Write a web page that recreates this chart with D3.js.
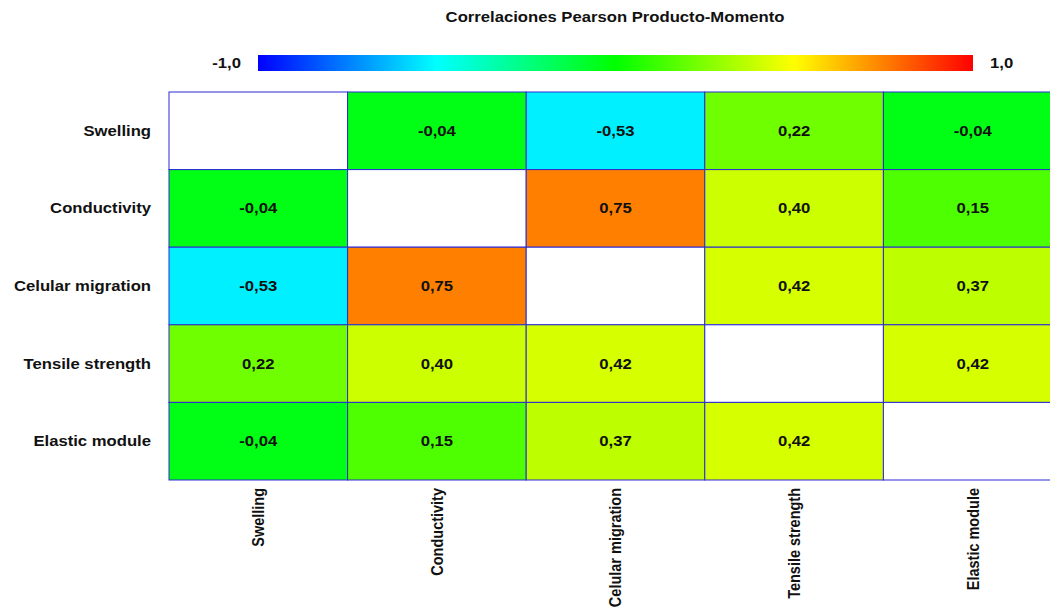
<!DOCTYPE html>
<html>
<head>
<meta charset="utf-8">
<script src="https://cdn.jsdelivr.net/npm/d3@7"></script>
<style>
  body { margin: 0; background: #fff; }
  svg text { font-family: "Liberation Sans", Arial, sans-serif; font-weight: bold; fill: #111; }
</style>
</head>
<body>
<svg id="chart" width="1050" height="609"></svg>
<script>
// variables in row/column order
var variables = ['Swelling', 'Conductivity', 'Celular migration', 'Tensile strength', 'Elastic module'];

// correlation rows (null = diagonal, left blank)
var rowSwelling     = [null, -0.04, -0.53, 0.22, -0.04];
var rowConductivity = [-0.04, null, 0.75, 0.40, 0.15];
var rowMigration    = [-0.53, 0.75, null, 0.42, 0.37];
var rowTensile      = [0.22, 0.40, 0.42, null, 0.42];
var rowElastic      = [-0.04, 0.15, 0.37, 0.42, null];
var matrix = [rowSwelling, rowConductivity, rowMigration, rowTensile, rowElastic];

var legendDomain = [-1, -0.5, 0, 0.5, 1];
var legendColors = ['#0000ff', '#00ffff', '#00ff00', '#ffff00', '#ff0000'];
var legendTicks  = ['-1,0', '1,0'];
var title = 'Correlaciones Pearson Producto-Momento';

var svg = d3.select('#chart');
var SX = 1.15; // the original text is a bit wide, stretch it

var color = d3.scaleLinear().domain(legendDomain).range(legendColors);
var fmt = function(v){ return d3.format('.2f')(v).replace('.', ',').replace('\u2212', '-'); };
var at = function(px, py){ return 'translate(' + px + ',' + py + ') scale(' + SX + ',1)'; };

// grid scales (last column runs off the page, like the original)
var x = d3.scaleBand().domain(variables).range([169, 169 + 5 * 178.6]);
var y = d3.scaleBand().domain(variables).range([92, 480]);

// flatten cells
var cells = [];
matrix.forEach(function(row, i){
  row.forEach(function(v, j){
    cells.push({ row: variables[i], col: variables[j], value: v });
  });
});

// title
svg.append('text')
  .attr('transform', at(615, 22))
  .attr('text-anchor', 'middle')
  .style('font-size', '14.5px')
  .text(title);

// colour bar
var grad = svg.append('defs').append('linearGradient')
  .attr('id', 'bar-grad').attr('x1', '0%').attr('x2', '100%');
legendDomain.forEach(function(d, i){
  grad.append('stop')
    .attr('offset', ((d + 1) / 2 * 100) + '%')
    .attr('stop-color', legendColors[i]);
});
var barX = d3.scaleLinear().domain([-1, 1]).range([258, 973]);
svg.append('rect')
  .attr('x', barX(-1)).attr('y', 55)
  .attr('width', barX(1) - barX(-1)).attr('height', 16)
  .attr('fill', 'url(#bar-grad)');
svg.append('text')
  .attr('transform', at(barX(-1) - 17, 68))
  .attr('text-anchor', 'end')
  .style('font-size', '14.5px')
  .text(legendTicks[0]);
svg.append('text')
  .attr('transform', at(barX(1) + 17, 68))
  .attr('text-anchor', 'start')
  .style('font-size', '14.5px')
  .text(legendTicks[1]);

// cells
svg.append('g').selectAll('rect')
  .data(cells)
  .join('rect')
    .attr('x', function(d){ return x(d.col); })
    .attr('y', function(d){ return y(d.row); })
    .attr('width', x.bandwidth())
    .attr('height', y.bandwidth())
    .attr('fill', function(d){ return d.value === null ? '#fff' : color(d.value); })
    .attr('stroke', '#2a2ad6')
    .attr('stroke-width', 1);

// cell values
svg.append('g').selectAll('text')
  .data(cells.filter(function(d){ return d.value !== null; }))
  .join('text')
    .attr('transform', function(d){
      return at(x(d.col) + x.bandwidth() / 2, y(d.row) + y.bandwidth() / 2);
    })
    .attr('dy', '0.35em')
    .attr('text-anchor', 'middle')
    .style('font-size', '14.5px')
    .text(function(d){ return fmt(d.value); });

// row labels
svg.append('g').selectAll('text')
  .data(variables)
  .join('text')
    .attr('transform', function(d){ return at(151, y(d) + y.bandwidth() / 2); })
    .attr('dy', '0.35em')
    .attr('text-anchor', 'end')
    .style('font-size', '14.5px')
    .text(function(d){ return d; });

// column labels, rotated (stretch goes across the glyphs, i.e. along page x)
svg.append('g').selectAll('text')
  .data(variables)
  .join('text')
    .attr('transform', function(d){
      return 'translate(' + (x(d) + x.bandwidth() / 2) + ',488) scale(' + SX + ',1) rotate(-90)';
    })
    .attr('dy', '0.35em')
    .attr('text-anchor', 'end')
    .style('font-size', '14.5px')
    .text(function(d){ return d; });
</script>
</body>
</html>
